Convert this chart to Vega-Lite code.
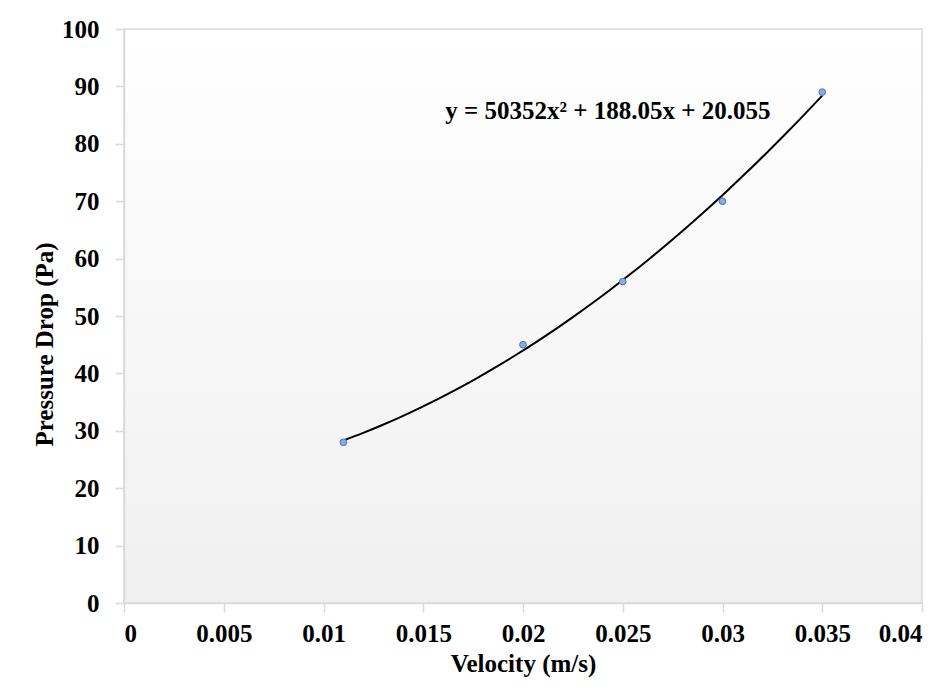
{
  "$schema": "https://vega.github.io/schema/vega-lite/v6.json",
  "width": 798,
  "height": 574,
  "autosize": {"type": "none"},
  "padding": {"left": 124, "top": 29, "right": 26, "bottom": 93},
  "background": "#ffffff",
  "view": {
    "stroke": "#d9d9d9",
    "strokeWidth": 1.5,
    "fill": {
      "gradient": "linear",
      "x1": 0, "y1": 0, "x2": 0, "y2": 1,
      "stops": [
        {"offset": 0, "color": "#ffffff"},
        {"offset": 1, "color": "#f0f0f0"}
      ]
    }
  },
  "config": {
    "axis": {
      "grid": false,
      "domainColor": "#d9d9d9",
      "domainWidth": 1.5,
      "tickColor": "#d9d9d9",
      "tickWidth": 1.5,
      "tickSize": 9,
      "labelFont": "Liberation Serif",
      "labelFontWeight": "bold",
      "labelFontSize": 25,
      "labelColor": "#000000",
      "titleFont": "Liberation Serif",
      "titleFontWeight": "bold",
      "titleFontSize": 25,
      "titleColor": "#000000"
    }
  },
  "data": {
    "values": [
      {"velocity": 0.011, "pressure": 28},
      {"velocity": 0.02, "pressure": 45},
      {"velocity": 0.025, "pressure": 56},
      {"velocity": 0.03, "pressure": 70},
      {"velocity": 0.035, "pressure": 89}
    ]
  },
  "layer": [
    {
      "transform": [
        {"regression": "pressure", "on": "velocity", "method": "poly", "order": 2}
      ],
      "mark": {"type": "line", "color": "#000000", "strokeWidth": 2, "interpolate": "monotone"},
      "encoding": {
        "x": {
          "field": "velocity",
          "type": "quantitative",
          "scale": {"domain": [0, 0.04], "nice": false},
          "axis": {
            "title": "Velocity (m/s)",
            "values": [0, 0.005, 0.01, 0.015, 0.02, 0.025, 0.03, 0.035, 0.04],
            "labelExpr": "'' + datum.value",
            "labelPadding": 9,
            "titlePadding": 5
          }
        },
        "y": {
          "field": "pressure",
          "type": "quantitative",
          "scale": {"domain": [0, 100], "nice": false},
          "axis": {
            "title": "Pressure Drop (Pa)",
            "values": [0, 10, 20, 30, 40, 50, 60, 70, 80, 90, 100],
            "labelPadding": 16,
            "titlePadding": 4,
            "titleY": 315
          }
        }
      }
    },
    {
      "mark": {"type": "point", "filled": true, "fill": "#8eaadb", "stroke": "#4472c4", "strokeWidth": 1, "size": 45, "opacity": 1},
      "encoding": {
        "x": {"field": "velocity", "type": "quantitative"},
        "y": {"field": "pressure", "type": "quantitative"}
      }
    },
    {
      "data": {"values": [{"label": "y = 50352x² + 188.05x + 20.055", "lx": 0.0161, "ly": 85.8}]},
      "mark": {"type": "text", "align": "left", "baseline": "middle", "font": "Liberation Serif", "fontWeight": "bold", "fontSize": 25, "color": "#000000"},
      "encoding": {
        "x": {"field": "lx", "type": "quantitative"},
        "y": {"field": "ly", "type": "quantitative"},
        "text": {"field": "label", "type": "nominal"}
      }
    }
  ]
}
